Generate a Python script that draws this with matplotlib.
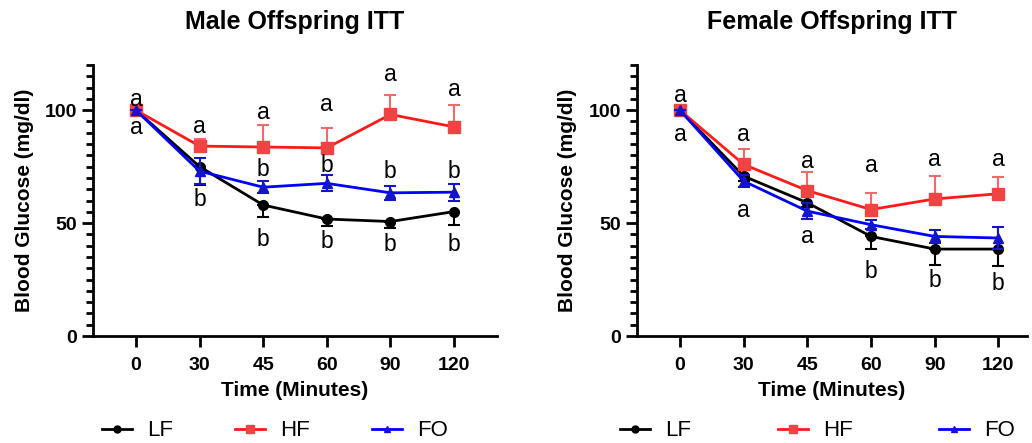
import matplotlib
matplotlib.use("Agg")
import matplotlib.pyplot as plt
from matplotlib.ticker import MultipleLocator
from matplotlib.lines import Line2D
import numpy as np

plt.rcParams['font.family'] = ['Liberation Sans', 'DejaVu Sans']

times = ['0', '30', '45', '60', '90', '120']
groups = ['LF', 'HF', 'FO']

# Male offspring
male_lf = [100, 75, 58, 51.8, 50.7, 55.1]
male_lf_err = [0, 8, 5.5, 3.2, 2.8, 5.8]
male_hf = [100, 84.1, 83.7, 83.3, 98.1, 92.6]
male_hf_err = [0, 3, 9.8, 9, 8.6, 9.9]
male_fo = [100, 73.0, 65.9, 67.6, 63.4, 63.7]
male_fo_err = [0, 5.9, 2.7, 3.5, 3.1, 3.7]
male_letters = [('a', 0, 104.9), ('a', 0, 92.4),
                ('a', 1, 93.0), ('b', 1, 60.4),
                ('a', 2, 99.0), ('b', 2, 73.8), ('b', 2, 42.7),
                ('a', 3, 102.7), ('b', 3, 75.6), ('b', 3, 41.9),
                ('a', 4, 116.0), ('b', 4, 73.0), ('b', 4, 40.4),
                ('a', 5, 109.3), ('b', 5, 73.0), ('b', 5, 40.4)]

# Female offspring
female_lf = [100, 70.8, 59, 44.1, 38.5, 38.5]
female_lf_err = [0, 2, 2, 5.4, 6.9, 7.7]
female_hf = [100, 76, 64.4, 56, 60.7, 63]
female_hf_err = [0, 7, 8.2, 7.4, 10, 7.4]
female_fo = [100, 68.6, 55.3, 49.3, 44.1, 43.4]
female_fo_err = [0, 2.5, 3.5, 2, 2.8, 4.7]
female_letters = [('a', 0, 106.7), ('a', 0, 89.3),
                  ('a', 1, 89.3), ('a', 1, 55.7),
                  ('a', 2, 77.5), ('a', 2, 44.1),
                  ('a', 3, 75.6), ('b', 3, 28.6),
                  ('a', 4, 78.2), ('b', 4, 24.6),
                  ('a', 5, 78.2), ('b', 5, 23.1)]

fig = plt.figure(figsize=(10.32, 4.43), dpi=100)
ax1 = fig.add_axes([0.0901, 0.2415, 0.3915, 0.6117])
ax2 = fig.add_axes([0.6172, 0.2415, 0.378, 0.6117])

BLACK = '#000000'
RED = '#FF1A1A'
RED_M = '#F04444'
RED_E = '#F06A6A'
BLUE = '#0000FF'
BLUE_M = '#1414C8'


def draw(ax, title, lf, lfe, hf, hfe, fo, foe, letters, xlim_right):
    x = np.arange(len(times))
    z = np.zeros(len(times))
    ax.errorbar(x, lf, yerr=[lfe, z], color=BLACK, lw=2, marker='o', ms=7,
                mfc=BLACK, mec=BLACK, ecolor=BLACK, elinewidth=1.5, capsize=4,
                capthick=1.5, zorder=3)
    ax.errorbar(x, hf, yerr=[z, hfe], color=RED, lw=2, marker='s', ms=8,
                mfc=RED_M, mec=RED_M, ecolor=RED_E, elinewidth=1.5, capsize=4,
                capthick=1.5, zorder=3)
    ax.errorbar(x, fo, yerr=[foe, foe], color=BLUE, lw=2, marker='^', ms=7,
                mfc=BLUE_M, mec=BLUE_M, ecolor=BLUE_M, elinewidth=1.5, capsize=4,
                capthick=1.5, zorder=4)
    for txt, xi, yi in letters:
        ax.text(xi, yi, txt, ha='center', va='center', fontsize=16.5, zorder=5)
    ax.set_xlim(-0.675, xlim_right)
    ax.set_ylim(0, 120)
    ax.set_xticks(x)
    ax.set_xticklabels(times, fontweight='bold', fontsize=14)
    ax.set_yticks([0, 50, 100])
    ax.set_yticklabels(['0', '50', '100'], fontweight='bold', fontsize=14)
    ax.yaxis.set_minor_locator(MultipleLocator(5))
    ax.tick_params(axis='both', which='major', length=8, width=2, direction='out')
    ax.tick_params(axis='y', which='minor', length=5, width=2)
    ax.tick_params(axis='x', pad=7)
    for s in ['top', 'right']:
        ax.spines[s].set_visible(False)
    for s in ['left', 'bottom']:
        ax.spines[s].set_linewidth(2)
    ax.set_title(title, fontsize=18, fontweight='bold', pad=26)
    ax.set_xlabel('Time (Minutes)', fontsize=15, fontweight='bold', labelpad=5)
    ax.set_ylabel('Blood Glucose (mg/dl)', fontsize=15, fontweight='bold', labelpad=8)


draw(ax1, 'Male Offspring ITT', male_lf, male_lf_err, male_hf, male_hf_err,
     male_fo, male_fo_err, male_letters, 5.675)
draw(ax2, 'Female Offspring ITT', female_lf, female_lf_err, female_hf, female_hf_err,
     female_fo, female_fo_err, female_letters, 5.45)

handles = [Line2D([], [], color=BLACK, lw=2, marker='o', ms=5, mfc=BLACK, mec=BLACK),
           Line2D([], [], color=RED, lw=2, marker='s', ms=6, mfc=RED_M, mec=RED_M),
           Line2D([], [], color=BLUE, lw=2, marker='^', ms=5, mfc=BLUE_M, mec=BLUE_M)]

common = dict(loc='center left', bbox_transform=fig.transFigure, ncol=3,
              frameon=False, fontsize=16, handlelength=1.35, handletextpad=0.68,
              borderpad=0, borderaxespad=0)
ax1.legend(handles, groups, bbox_to_anchor=(102 / 1032, 1 - 431 / 443),
           columnspacing=2.8, **common)
ax2.legend(handles, groups, bbox_to_anchor=(620 / 1032, 1 - 431 / 443),
           columnspacing=3.9, **common)

fig.savefig('out.png', dpi=100)
